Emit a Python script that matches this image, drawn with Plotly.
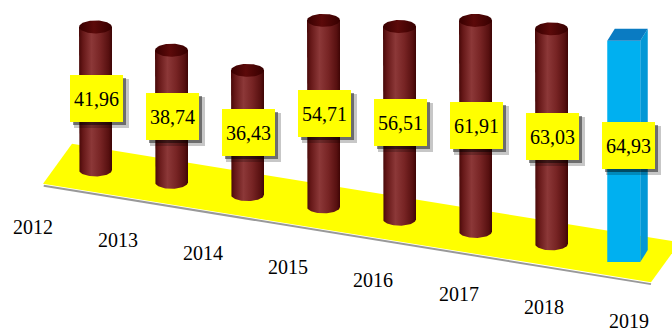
import numpy as np
import plotly.graph_objects as go

# ---- data ----
years = ['2012', '2013', '2014', '2015', '2016', '2017', '2018', '2019']
values = [41.96, 38.74, 36.43, 54.71, 56.51, 61.91, 63.03, 64.93]
value_labels = [f"{v:.2f}".replace('.', ',') for v in values]
highlight_year = '2019'

# ---- projection / layout constants ----
W, H = 672, 331
PX_SLOT = 76.0      # pixels per category slot
PX_UNIT = 3.41      # pixels per value unit
X0_PX = 95.5        # pixel x of slot 0
Y0_PX = 170.0       # pixel y of floor at slot 0
FLOOR_DROP = 3.607  # value units the floor falls per slot (perspective tilt)
FLOOR_HALF_DX = 0.1908  # half floor depth, in slots
FLOOR_HALF_DY = 5.865   # half floor depth, in value units
R = 16.5 / PX_SLOT      # cylinder radius (slots)
B = 6.5 / PX_UNIT       # ellipse semi-minor (value units)
BOX_DX = 3.75 / PX_SLOT
BOX_DY = 6.0 / PX_UNIT

x_range = [-X0_PX / PX_SLOT, (W - X0_PX) / PX_SLOT]
y_range = [(Y0_PX - H) / PX_UNIT, Y0_PX / PX_UNIT]

RED_BODY = [[0, '#470808'], [0.12, '#661818'], [0.38, '#8c3838'],
            [0.65, '#772424'], [0.9, '#571010'], [1, '#3e0505']]
RED_CAP = [[0, '#380000'], [0.45, '#5c0a0a'], [1, '#360000']]


def base(i):
    return -FLOOR_DROP * i


fig = go.Figure()

# floor
s0, s1 = -0.5, 7.5
fx = [s0 - FLOOR_HALF_DX, s1 - FLOOR_HALF_DX, s1 + FLOOR_HALF_DX, s0 + FLOOR_HALF_DX]
fy = [base(s0) - FLOOR_HALF_DY, base(s1) - FLOOR_HALF_DY,
      base(s1) + FLOOR_HALF_DY, base(s0) + FLOOR_HALF_DY]
# floor shadow line
fig.add_trace(go.Scatter(x=[fx[0] + 0.01, fx[1]], y=[fy[0] - 0.55, fy[1] - 0.55],
                         mode='lines', line=dict(color='rgba(70,70,70,0.55)', width=2),
                         hoverinfo='skip'))
fig.add_trace(go.Scatter(x=fx, y=fy, fill='toself', fillcolor='#ffff00', mode='lines',
                         line=dict(width=0, color='#ffff00'), hoverinfo='skip'))

th_half = np.linspace(np.pi, 2 * np.pi, 40)
th_full = np.linspace(0, 2 * np.pi, 80)

for i, (yr, v) in enumerate(zip(years, values)):
    cx = i
    yb = base(i)
    yt = yb + v
    if yr == highlight_year:
        fl, fr = cx - BOX_DX - R, cx - BOX_DX + R
        bl, br = cx + BOX_DX - R, cx + BOX_DX + R
        ybf, ytf = yb - BOX_DY, yt - BOX_DY
        ybb, ytb = yb + BOX_DY, yt + BOX_DY
        fig.add_trace(go.Scatter(x=[fr, br, br, fr], y=[ybf, ybb, ytb, ytf], fill='toself',
                                 fillcolor='#0398d6', mode='lines', line=dict(width=0),
                                 hoverinfo='skip'))
        fig.add_trace(go.Scatter(x=[fl, fr, fr, fl], y=[ybf, ybf, ytf, ytf], fill='toself',
                                 fillcolor='#00b0f0', mode='lines', line=dict(width=0),
                                 hoverinfo='skip'))
        fig.add_trace(go.Scatter(x=[fl, fr, br, bl], y=[ytf, ytf, ytb, ytb], fill='toself',
                                 fillcolor='#0a7bc2', mode='lines', line=dict(width=0),
                                 hoverinfo='skip'))
    else:
        bx = [cx - R, cx - R] + list(cx + R * np.cos(th_half)) + [cx + R, cx + R]
        by = [yt, yb] + list(yb + B * np.sin(th_half)) + [yb, yt]
        fig.add_trace(go.Scatter(x=bx, y=by, fill='toself', mode='lines',
                                 line=dict(width=0, color='#5a1010'),
                                 fillgradient=dict(type='horizontal', colorscale=RED_BODY),
                                 hoverinfo='skip'))
        capx = cx + R * np.cos(th_full)
        capy = yt + B * np.sin(th_full)
        fig.add_trace(go.Scatter(x=capx, y=capy, fill='toself', mode='lines',
                                 line=dict(width=0, color='#3e0000'),
                                 fillgradient=dict(type='horizontal', colorscale=RED_CAP),
                                 hoverinfo='skip'))

annotations = []
for i, (yr, v, lab) in enumerate(zip(years, values, value_labels)):
    lx = i + 1.0 / PX_SLOT
    ly = base(i) + v / 2
    for sx, sy, a, extra in [(5, -5, 0.22, 2), (3, -3, 0.45, 0)]:
        annotations.append(dict(x=lx, y=ly, xref='x', yref='y', text=' ', showarrow=False,
                                width=53 + extra, height=47 + extra, xshift=sx, yshift=sy,
                                bgcolor=f'rgba(0,0,0,{a})', borderwidth=0, borderpad=0))
    annotations.append(dict(x=lx, y=ly, xref='x', yref='y', text=lab, showarrow=False,
                            width=53, height=47, bgcolor='#ffff00', borderwidth=0, borderpad=0,
                            font=dict(family='Liberation Serif', size=20, color='black')))

# category (year) labels in front of the floor
LAB_SPREAD = 85.2 / PX_SLOT
LAB_X0 = (32.5 - X0_PX) / PX_SLOT
LAB_Y0 = (Y0_PX - 226.5) / PX_UNIT
LAB_DROP = 13.46 / PX_UNIT
for i, yr in enumerate(years):
    annotations.append(dict(x=LAB_X0 + LAB_SPREAD * i, y=LAB_Y0 - LAB_DROP * i,
                            xref='x', yref='y', text=yr, showarrow=False,
                            font=dict(family='Liberation Serif', size=20, color='black')))

fig.update_layout(
    width=W, height=H, margin=dict(l=0, r=0, t=0, b=0),
    paper_bgcolor='white', plot_bgcolor='white', showlegend=False,
    xaxis=dict(range=x_range, visible=False, fixedrange=True),
    yaxis=dict(range=y_range, visible=False, fixedrange=True),
    annotations=annotations, hovermode=False,
)
fig.write_html("out.html")
